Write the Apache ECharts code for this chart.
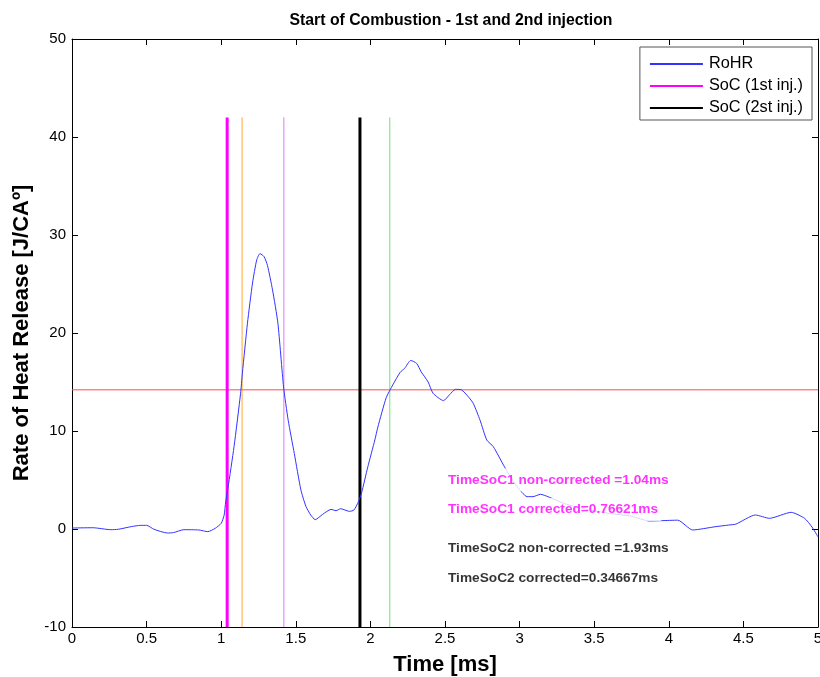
<!DOCTYPE html>
<html>
<head>
<meta charset="utf-8">
<script src="https://cdn.jsdelivr.net/npm/echarts@6/dist/echarts.min.js"></script>
<style>html,body{margin:0;padding:0;background:#fff}#c{width:820px;height:677px}</style>
</head>
<body>
<div id="c"></div>
<script>
// RoHR curve: [time ms, rate of heat release]
const rohrX = [0,0.14,0.26,0.31,0.40,0.46,0.50,0.55,0.64,0.68,0.75,0.85,0.91,0.96,1.00,1.02,1.03,1.045,1.086,1.13,1.142,1.176,1.21,1.238,1.26,1.287,1.31,1.344,1.38,1.418,1.449,1.49,1.534,1.568,1.60,1.63,1.68,1.736,1.77,1.80,1.86,1.89,1.92,1.94,1.983,2.03,2.05,2.106,2.15,2.2,2.23,2.27,2.31,2.34,2.387,2.42,2.49,2.53,2.57,2.61,2.656,2.69,2.735,2.78,2.824,2.90,2.96,3.015,3.05,3.09,3.14,3.19,3.3,3.45,3.6,3.75,3.87,3.95,4.06,4.16,4.31,4.40,4.45,4.58,4.675,4.82,4.91,4.96,5.0];
const rohrY = [0.1,0.13,-0.07,-0.03,0.25,0.37,0.37,-0.03,-0.41,-0.37,-0.07,-0.1,-0.27,0.07,0.58,1.43,2.8,4.15,8.4,13.85,15.9,21,25.1,27.45,28.1,27.8,26.9,24.4,21,14.5,11.1,7.7,4.0,2.3,1.43,0.95,1.5,2.0,1.87,2.07,1.8,1.94,2.8,3.64,6.36,9.1,10.4,13.4,14.7,16.0,16.4,17.2,16.9,16.05,15.0,13.85,13.1,13.7,14.25,14.2,13.5,12.8,11.1,9.08,8.4,6.3,4.8,3.74,3.3,3.3,3.54,3.3,2.6,2.0,1.6,1.3,0.82,0.85,0.9,-0.1,0.23,0.4,0.5,1.43,1.09,1.7,1.09,0.2,-0.8];
// Marker positions
const soc1 = 1.04, soc2 = 1.93;
const orangeX = 1.14, violetX = 1.42, greenX = 2.13;
const threshold = 14.2;
const vLineBottom = -10, vLineTop = 42;
// Annotation texts and positions
const noteX = 2.5;
const noteTexts = ['TimeSoC1 non-corrected =1.04ms', 'TimeSoC1 corrected=0.76621ms', 'TimeSoC2 non-corrected =1.93ms', 'TimeSoC2 corrected=0.34667ms'];
const noteY = [5, 2, -2, -5];
const noteColors = ['#ff00ff', '#ff00ff', '#000000', '#000000'];
const xTicks = [0,0.5,1,1.5,2,2.5,3,3.5,4,4.5,5];
const yTicks = [-10,0,10,20,30,40,50];

const FONT = 'Liberation Sans, Arial, sans-serif';
const chart = echarts.init(document.getElementById('c'), null, {renderer: 'canvas'});
const vline = (name, x, color, w) => ({
  name, type: 'line', data: [[x, vLineBottom], [x, vLineTop]], symbol: 'none',
  lineStyle: {color, width: w}, itemStyle: {color}, silent: true, animation: false, z: 3
});
const axisCommon = {
  axisLine: {show: true, onZero: false, lineStyle: {color: '#000', width: 1}},
  axisTick: {show: true, inside: true, length: 6, lineStyle: {color: '#000'}},
  splitLine: {show: false}
};
chart.setOption({
  animation: false,
  backgroundColor: '#fff',
  title: {
    text: 'Start of Combustion - 1st and 2nd injection', left: 446, top: 8, textAlign: 'center',
    textStyle: {fontFamily: FONT, fontSize: 15.8, fontWeight: 'bold', color: '#000'}
  },
  grid: {left: 72, right: 2, top: 39, bottom: 50, containLabel: false, outerBoundsMode: 'none'},
  legend: {
    data: ['RoHR', 'SoC (1st inj.)', 'SoC (2st inj.)'],
    orient: 'vertical', right: 8, top: 47,
    backgroundColor: '#fff', borderColor: '#555', borderWidth: 1, borderRadius: 0,
    padding: [9, 9, 4, 9], itemWidth: 53, itemHeight: 16, itemGap: 6,
    itemStyle: {opacity: 0},
    textStyle: {fontFamily: FONT, fontSize: 16.3, color: '#000', padding: [0, 0, 0, 1]}
  },
  xAxis: [
    Object.assign({
      type: 'value', min: 0, max: 5, interval: 0.5, position: 'bottom',
      name: 'Time [ms]', nameLocation: 'middle', nameGap: 27,
      nameTextStyle: {fontFamily: FONT, fontSize: 22, fontWeight: 'bold', color: '#000'},
      axisLabel: {fontFamily: FONT, fontSize: 15, color: '#000', margin: 4,
        formatter: v => xTicks.includes(v) ? String(v) : ''}
    }, axisCommon),
    Object.assign({type: 'value', min: 0, max: 5, interval: 0.5, position: 'top', axisLabel: {show: false}}, axisCommon)
  ],
  yAxis: [
    Object.assign({
      type: 'value', min: -10, max: 50, interval: 10, position: 'left',
      name: 'Rate of Heat Release [J/CAº]', nameLocation: 'middle', nameGap: 28,
      nameTextStyle: {fontFamily: FONT, fontSize: 22, fontWeight: 'bold', color: '#000'},
      axisLabel: {fontFamily: FONT, fontSize: 15, color: '#000', margin: 6,
        formatter: v => yTicks.includes(v) ? String(v) : ''}
    }, axisCommon),
    Object.assign({type: 'value', min: -10, max: 50, interval: 10, position: 'right', axisLabel: {show: false}}, axisCommon)
  ],
  series: [
    {
      name: 'threshold', type: 'line', data: [[0, threshold], [5, threshold]], symbol: 'none',
      lineStyle: {color: '#ff4d4d', width: 1}, silent: true, z: 2
    },
    vline('orange', orangeX, '#ffaa33', 1),
    vline('violet', violetX, '#dd77ff', 1),
    vline('green', greenX, '#77dd77', 1),
    vline('SoC (1st inj.)', soc1, '#ff00ff', 3),
    vline('SoC (2st inj.)', soc2, '#000000', 3),
    {
      name: 'RoHR', type: 'line', data: rohrX.map((x, i) => [x, rohrY[i]]), symbol: 'none',
      smooth: 0.2, lineStyle: {color: '#3333ff', width: 1}, itemStyle: {color: '#3333ff'}, z: 4
    },
    {
      name: 'notes', type: 'scatter', symbolSize: 0, zlevel: 1, z: 10, silent: true,
      data: noteTexts.map((t, i) => ({
        value: [noteX, noteY[i]],
        label: {
          show: true, position: 'right', distance: 0, formatter: t,
          color: noteColors[i], fontFamily: FONT, fontSize: 13.7, fontWeight: 'bold',
          lineHeight: 18, backgroundColor: '#ffffff', padding: [3, 3, 2, 3]
        }
      }))
    }
  ]
});
</script>
</body>
</html>
